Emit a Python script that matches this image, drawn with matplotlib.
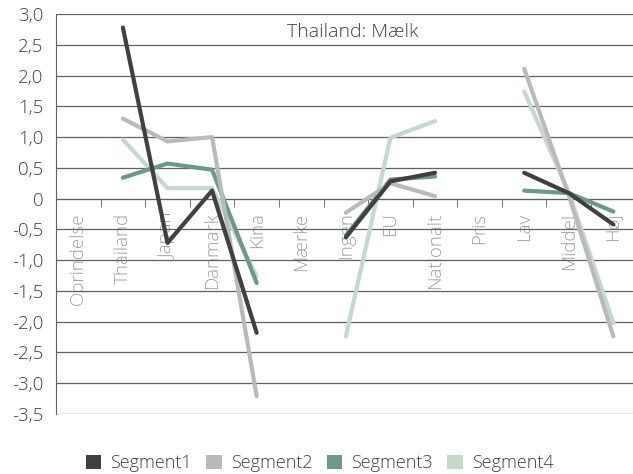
import numpy as np
import matplotlib
matplotlib.use("Agg")
import matplotlib.pyplot as plt
from matplotlib.patches import Patch

plt.rcParams['font.family'] = ['Open Sans', 'DejaVu Sans']
plt.rcParams['font.weight'] = 'light'

categories = ['Oprindelse', 'Thailand', 'Japan', 'Danmark', 'Kina', 'Mærke',
              'Ingen', 'EU', 'Nationalt', 'Pris', 'Lav', 'Middel', 'Høj']
nan = np.nan
seg1 = [nan, 2.78, -0.72, 0.13, -2.18, nan, -0.63, 0.28, 0.42, nan, 0.42, 0.09, -0.42]
seg2 = [nan, 1.30, 0.93, 1.00, -3.21, nan, -0.23, 0.25, 0.04, nan, 2.11, 0.05, -2.24]
seg3 = [nan, 0.34, 0.57, 0.47, -1.37, nan, -0.60, 0.31, 0.36, nan, 0.13, 0.09, -0.21]
seg4 = [nan, 0.96, 0.17, 0.17, -1.26, nan, -2.24, 0.99, 1.26, nan, 1.74, 0.10, -2.02]
names = ['Segment1', 'Segment2', 'Segment3', 'Segment4']
colors = ['#404040', '#bababa', '#6a9c85', '#c4d8cc']
series = [seg1, seg2, seg3, seg4]

fig = plt.figure(figsize=(6.33, 4.74), dpi=100)
ax = fig.add_axes([56/633, 60/474, 577/633, 400/474])

x = np.arange(len(categories))
for s, c in reversed(list(zip(series, colors))):
    ax.plot(x, s, color=c, lw=3, solid_capstyle='round', zorder=3)

ax.set_ylim(-3.5, 3.0)
ax.set_xlim(-0.5, 12.44)
yt = np.arange(-3.5, 3.01, 0.5)
ax.set_yticks(yt)
ax.set_yticklabels(['0' if abs(v) < 1e-9 else ('%.1f' % v).replace('.', ',') for v in yt])
ax.yaxis.grid(True, color='#606060', lw=0.9)
ax.set_axisbelow(True)
ax.tick_params(axis='y', length=0, pad=9, labelsize=13.5, labelcolor='#404040')

for sp in ['top', 'right']:
    ax.spines[sp].set_visible(False)
ax.spines['left'].set_color('#606060')
ax.spines['bottom'].set_position(('data', 0))
ax.spines['bottom'].set_color('#606060')

ax.set_xticks(x)
ax.set_xticklabels(categories, rotation=90, va='top')
ax.set_xticks(np.arange(0.5, 12.5, 1), minor=True)
ax.tick_params(axis='x', which='major', length=0, pad=10, labelsize=13.5, labelcolor='#a0a0a0')
ax.tick_params(axis='x', which='minor', length=6, direction='out', color='#606060')

ax.text(0.5135, 0.955, 'Thailand: Mælk', transform=ax.transAxes, ha='center', va='center',
        fontsize=14, color='#404040')

handles = [Patch(facecolor=c, edgecolor='none') for c in colors]
fig.legend(handles, names, loc='center', bbox_to_anchor=(0.505, 0.023), ncol=4,
           frameon=False, fontsize=13, handlelength=0.85, handleheight=0.85,
           handletextpad=0.5, columnspacing=0.8, labelcolor='#404040')

fig.savefig('out.png', dpi=100)
